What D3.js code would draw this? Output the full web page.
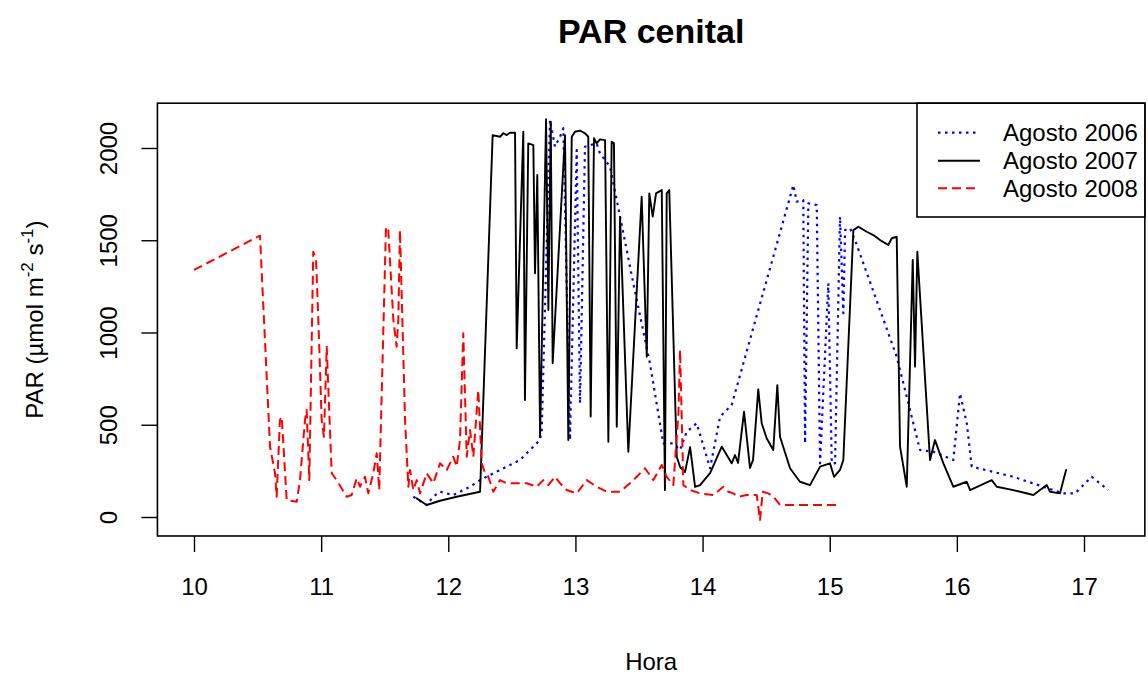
<!DOCTYPE html>
<html>
<head>
<meta charset="utf-8">
<script src="https://cdn.jsdelivr.net/npm/d3@7"></script>
<style>
  html, body { margin: 0; padding: 0; background: #fff; }
  svg { display: block; font-family: "Liberation Sans", Arial, Helvetica, sans-serif; }
</style>
</head>
<body>
<svg id="chart" width="1148" height="675"></svg>
<script>
// ---- Data (hour of day, PAR µmol m-2 s-1) ----
const hora2006 = [11.725,11.830,11.882,11.935,12.039,12.118,12.171,12.250,12.407,12.564,12.721,12.735,12.800,12.839,12.879,12.905,12.957,13.010,13.036,13.075,13.167,13.193,13.272,13.351,13.455,13.586,13.691,13.770,13.823,13.875,13.954,14.059,14.138,14.190,14.229,14.714,14.740,14.792,14.806,14.832,14.898,14.924,14.989,15.016,15.042,15.081,15.107,15.121,15.160,15.199,15.527,15.710,15.815,15.972,16.025,16.078,16.117,16.444,16.837,16.929,17.061,17.191];
const par2006  = [110,65,110,137,119,146,164,200,255,309,417,471,2152,2007,2061,2107,417,1989,616,2007,2025,1971,1899,1628,1267,833,399,399,363,462,508,264,544,580,607,1799,1709,1718,399,1700,1691,291,1267,291,291,1628,1104,1555,1565,1501,869,363,354,309,670,508,273,218,128,128,218,146];

const hora2007 = [11.752,11.791,11.830,11.935,12.066,12.250,12.349,12.407,12.433,12.460,12.485,12.525,12.538,12.590,12.603,12.629,12.669,12.682,12.700,12.722,12.769,12.787,12.806,12.821,12.918,12.944,12.971,12.997,13.036,13.075,13.101,13.120,13.146,13.167,13.193,13.233,13.259,13.285,13.303,13.325,13.351,13.416,13.521,13.561,13.581,13.608,13.634,13.679,13.704,13.718,13.738,13.797,13.823,13.862,13.902,13.941,13.980,14.059,14.151,14.229,14.255,14.279,14.326,14.373,14.397,14.438,14.465,14.504,14.556,14.588,14.609,14.688,14.766,14.845,14.924,15.002,15.034,15.081,15.107,15.186,15.225,15.291,15.343,15.396,15.461,15.488,15.527,15.553,15.606,15.653,15.671,15.689,15.789,15.828,15.894,15.972,16.078,16.104,16.274,16.314,16.444,16.602,16.707,16.733,16.811,16.859];
const par2007  = [101,83,65,88,110,137,2070,2061,2080,2070,2083,2083,914,2088,634,2025,2016,1321,1854,435,2156,1122,2143,833,2070,417,2061,2088,2094,2080,2061,544,2053,2025,2047,2043,408,2034,2025,489,1628,354,1736,869,1754,1628,1754,1772,146,1754,1772,327,271,244,379,163,173,238,381,291,336,293,571,266,309,692,508,427,363,715,435,264,191,173,273,291,218,255,309,1555,1573,1546,1528,1501,1474,1511,1519,381,164,1393,815,1438,309,417,291,164,191,146,200,164,146,119,173,137,128,255];

const hora2008 = [10.000,10.519,10.598,10.637,10.650,10.676,10.690,10.729,10.808,10.834,10.873,10.886,10.907,10.938,10.960,10.978,11.004,11.022,11.044,11.056,11.083,11.122,11.201,11.240,11.280,11.306,11.345,11.371,11.410,11.437,11.457,11.510,11.528,11.568,11.594,11.607,11.620,11.660,11.686,11.699,11.725,11.752,11.778,11.830,11.882,11.935,11.988,12.039,12.066,12.092,12.118,12.145,12.171,12.197,12.236,12.263,12.289,12.315,12.354,12.407,12.459,12.525,12.617,12.695,12.747,12.787,12.839,12.879,12.931,13.010,13.089,13.167,13.246,13.351,13.429,13.482,13.547,13.613,13.679,13.718,13.770,13.810,13.823,13.849,13.902,13.980,14.085,14.163,14.203,14.242,14.281,14.347,14.426,14.452,14.473,14.517,14.557,14.609,14.766,15.055];
const par2008  = [1339,1525,381,238,110,526,543,92,83,200,526,580,200,1438,1393,1068,526,435,923,706,237,200,110,119,210,164,218,128,237,345,146,1573,1555,1068,923,1068,1555,526,164,255,146,200,128,237,183,291,255,327,273,417,996,327,471,327,688,291,237,218,137,200,183,183,183,164,200,173,218,183,146,128,200,164,137,137,183,218,264,200,282,218,173,562,905,173,146,128,119,164,137,128,110,119,119,-16,137,128,110,65,65,65];

const xTicks = [10, 11, 12, 13, 14, 15, 16, 17];
const yTicks = [0, 500, 1000, 1500, 2000];
const seriesNames = ["Agosto 2006", "Agosto 2007", "Agosto 2008"];
const titleText = "PAR cenital";
const xLabel = "Hora";

// ---- Build ----
const series = [
  { name: seriesNames[0], x: hora2006, y: par2006, color: "#0000ff", dash: "2.5,4.5", width: 2.2 },
  { name: seriesNames[1], x: hora2007, y: par2007, color: "#000000", dash: null, width: 1.9 },
  { name: seriesNames[2], x: hora2008, y: par2008, color: "#ff0000", dash: "9,5", width: 2.0 }
];

const svg = d3.select("#chart");
const x = d3.scaleLinear().domain([10, 17]).range([194, 1084]);
const y = d3.scaleLinear().domain([0, 2000]).range([517, 148]);

const allX = [].concat(hora2006, hora2007, hora2008);
const allY = [].concat(par2006, par2007, par2008);
const [x0, x1] = d3.extent(allX);
const [y0, y1] = d3.extent(allY);
const px = (x1 - x0) * 0.04, py = (y1 - y0) * 0.04;
const L = x(x0 - px), R = x(x1 + px), T = y(y1 + py), B = y(y0 - py);

// clip
svg.append("clipPath").attr("id", "clip").append("rect")
  .attr("x", L).attr("y", T).attr("width", R - L).attr("height", B - T);

const line = d3.line().x(d => x(d[0])).y(d => y(d[1]));
const g = svg.append("g").attr("clip-path", "url(#clip)");
series.forEach(s => {
  const pts = s.x.map((v, i) => [v, s.y[i]]);
  g.append("path").attr("d", line(pts))
    .attr("fill", "none").attr("stroke", s.color)
    .attr("stroke-width", s.width)
    .attr("stroke-dasharray", s.dash)
    .attr("stroke-linejoin", "round").attr("stroke-linecap", s.dash ? "butt" : "round");
});

// box
svg.append("rect").attr("x", L).attr("y", T).attr("width", R - L).attr("height", B - T)
  .attr("fill", "none").attr("stroke", "#000").attr("stroke-width", 1.6);

// x axis
const xAxis = d3.axisBottom(x).tickValues(xTicks).tickSize(16).tickPadding(26).tickFormat(d3.format("d"));
const gx = svg.append("g").attr("transform", `translate(0,${B})`).call(xAxis);
gx.select(".domain").remove();
gx.selectAll(".tick line").attr("stroke", "#000").attr("stroke-width", 1.4);
gx.selectAll(".tick text").attr("font-size", 24).attr("fill", "#000")
  .attr("font-family", "Liberation Sans, Arial, sans-serif");

// y axis
const yAxis = d3.axisLeft(y).tickValues(yTicks).tickSize(16).tickPadding(6).tickFormat(d3.format("d"));
const gy = svg.append("g").attr("transform", `translate(${L},0)`).call(yAxis);
gy.select(".domain").remove();
gy.selectAll(".tick line").attr("stroke", "#000").attr("stroke-width", 1.4);
gy.selectAll(".tick text").attr("font-size", 24).attr("fill", "#000")
  .attr("font-family", "Liberation Sans, Arial, sans-serif")
  .attr("x", null).attr("dy", null)
  .attr("text-anchor", "middle")
  .attr("transform", `translate(${-(L - 117)},0) rotate(-90)`);

// title
svg.append("text").attr("x", (L + R) / 2).attr("y", 43).attr("text-anchor", "middle")
  .attr("font-size", 34).attr("font-weight", "bold").attr("fill", "#000").text(titleText);

// x label
svg.append("text").attr("x", (L + R) / 2).attr("y", 670).attr("text-anchor", "middle")
  .attr("font-size", 24).attr("fill", "#000").text(xLabel);

// y label with superscripts
const yl = svg.append("text").attr("text-anchor", "middle").attr("font-size", 24).attr("fill", "#000")
  .attr("transform", `translate(43,${(T + B) / 2}) rotate(-90)`);
yl.append("tspan").text("PAR (µmol m");
yl.append("tspan").attr("font-size", 17).attr("dy", -10).text("-2");
yl.append("tspan").attr("dy", 10).text(" s");
yl.append("tspan").attr("font-size", 17).attr("dy", -10).text("-1");
yl.append("tspan").attr("dy", 10).text(")");

// legend
const lg = svg.append("g");
const lgL = 917, lgB = 217;
lg.append("rect").attr("x", lgL).attr("y", T).attr("width", R - lgL).attr("height", lgB - T)
  .attr("fill", "#fff").attr("stroke", "#000").attr("stroke-width", 1.6);
const rowY = [132.7, 160.7, 188.3];
series.forEach((s, i) => {
  lg.append("line").attr("x1", 938).attr("x2", 980).attr("y1", rowY[i]).attr("y2", rowY[i])
    .attr("stroke", s.color).attr("stroke-width", s.width).attr("stroke-dasharray", s.dash);
  lg.append("text").attr("x", 1003).attr("y", rowY[i]).attr("dy", "0.35em")
    .attr("font-size", 24).attr("fill", "#000").text(s.name);
});
</script>
</body>
</html>
